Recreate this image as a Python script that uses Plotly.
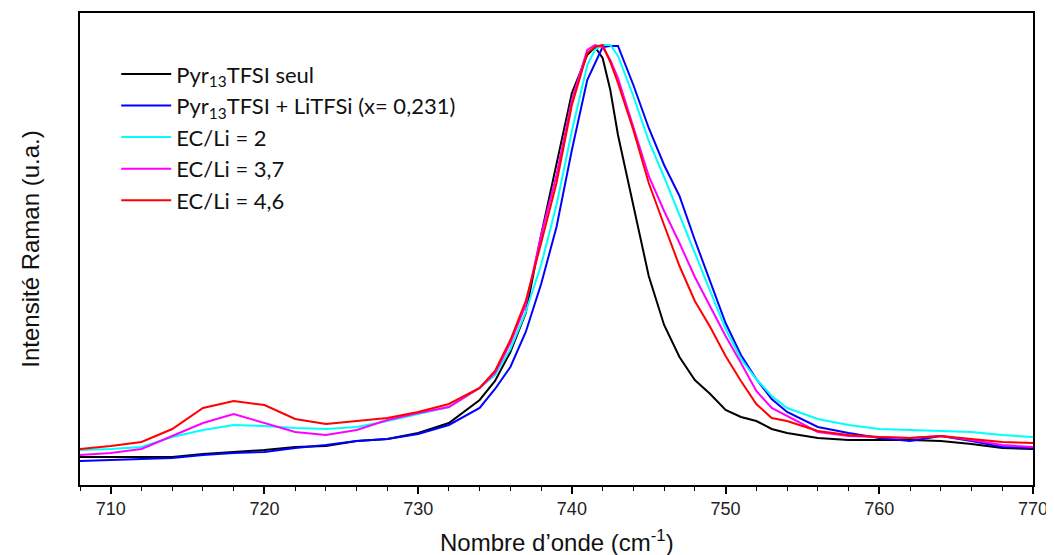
import plotly.graph_objects as go

wavenumber = [708, 710, 712, 714, 716, 718, 720, 722, 724, 726, 728, 730, 732, 734, 735, 736, 737, 738,
              739, 740, 741, 741.5, 742, 742.5, 743, 744, 745, 746, 747, 748, 749, 750, 751, 752, 753,
              754, 756, 758, 760, 762, 764, 766, 768, 770]

pyr13tfsi = [28, 28, 28, 28, 31, 33, 35, 38, 39, 44, 46, 52, 62, 85, 104, 133, 172, 250,
             321, 392, 430, 438, 427, 395, 350, 278, 209, 160, 128, 105, 91, 75, 68, 64, 56,
             52, 47, 45, 45, 45, 44, 41, 37, 36]

pyr13_litfsi = [24, 25, 26, 27, 30, 32, 33, 37, 40, 44, 46, 51, 60, 77, 96, 118, 153, 201,
                258, 335, 405, 422, 438, 439, 439, 400, 357, 320, 289, 245, 204, 162, 130, 106, 86,
                73, 58, 52, 47, 44, 49, 44, 38, 37]

ec_li_2 = [35, 36, 38, 48, 55, 60, 59, 57, 56, 58, 64, 71, 78, 97, 110, 136, 173, 220,
           280, 354, 420, 435, 440, 440, 429, 389, 344, 308, 270, 232, 194, 156, 126, 106, 89,
           77, 66, 60, 56, 55, 54, 53, 50, 48]

ec_li_37 = [30, 32, 36, 49, 62, 71, 62, 53, 50, 55, 65, 72, 78, 97, 112, 142, 180, 250,
            310, 385, 435, 440, 438, 425, 407, 357, 309, 274, 242, 208, 179, 149, 122, 94, 77,
            69, 53, 49, 48, 47, 49, 45, 40, 38]

ec_li_46 = [36, 39, 43, 56, 77, 84, 80, 66, 61, 64, 67, 73, 81, 97, 114, 145, 184, 242,
            302, 380, 432, 438, 440, 423, 402, 355, 302, 260, 219, 184, 158, 129, 104, 81, 67,
            64, 54, 50, 48, 47, 49, 46, 43, 42]

series_names = ["Pyr<sub>13</sub>TFSI seul",
                "Pyr<sub>13</sub>TFSI + LiTFSi (x= 0,231)",
                "EC/Li = 2",
                "EC/Li = 3,7",
                "EC/Li = 4,6"]
series_values = [pyr13tfsi, pyr13_litfsi, ec_li_2, ec_li_37, ec_li_46]
series_colors = ["#000000", "#0000ff", "#00ffff", "#ff00ff", "#ff0000"]

x_title = "Nombre d’onde (cm<sup>-1</sup>)"
y_title = "Intensité Raman (u.a.)"

fig = go.Figure()
for name, vals, col in zip(series_names, series_values, series_colors):
    fig.add_trace(go.Scatter(x=wavenumber, y=vals, mode="lines", name=name,
                             line=dict(color=col, width=2)))

fig.update_layout(
    width=1046, height=547,
    margin=dict(l=72, r=21, t=5, b=70),
    paper_bgcolor="white", plot_bgcolor="white",
    showlegend=True,
    legend=dict(x=0.038, y=0.915, xanchor="left", yanchor="top",
                bgcolor="rgba(0,0,0,0)", borderwidth=0, itemwidth=50,
                font=dict(family="Lato, Carlito, sans-serif", size=22, color="#111111"),
                tracegroupgap=0),
)
fig.add_annotation(text=x_title, xref="paper", yref="paper", x=0.5, y=0,
                   yshift=-56, xanchor="center", yanchor="middle", showarrow=False,
                   font=dict(family="Liberation Sans, Arial, sans-serif", size=24, color="#111111"))
fig.update_xaxes(
    range=[708, 770], dtick=10, tick0=710, automargin=False,
    ticks="outside", ticklen=7, tickwidth=1.5, tickcolor="black",
    minor=dict(dtick=2, ticks="outside", ticklen=4, tickwidth=1, tickcolor="black"),
    showline=True, linecolor="black", linewidth=1.5, mirror=True,
    showgrid=False, zeroline=False,
    tickfont=dict(family="Liberation Sans, Arial, sans-serif", size=18, color="#222222"),
)
fig.update_yaxes(
    range=[0, 472], showticklabels=False, ticks="", automargin=False,
    showline=True, linecolor="black", linewidth=1.5, mirror=True,
    showgrid=False, zeroline=False,
    title=dict(text=y_title, standoff=32,
               font=dict(family="Liberation Sans, Arial, sans-serif", size=24, color="#111111")),
)

fig.write_html("out.html")
